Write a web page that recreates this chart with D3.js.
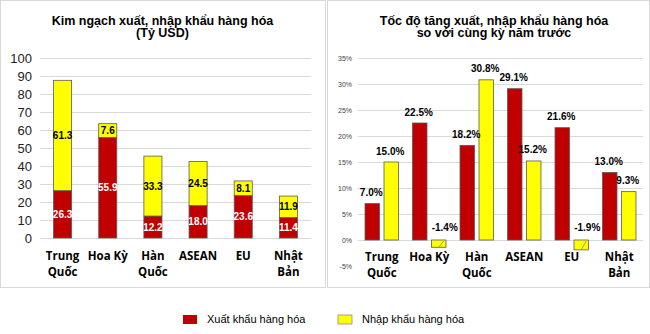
<!DOCTYPE html>
<html>
<head>
<meta charset="utf-8">
<script src="https://cdn.jsdelivr.net/npm/d3@7"></script>
<style>
  html, body { margin: 0; padding: 0; background: #fff; }
  svg { display: block; }
</style>
</head>
<body>
<svg id="chart" width="650" height="334"></svg>
<script>
// Partners (two-line labels)
const categories = ["Trung Quốc", "Hoa Kỳ", "Hàn Quốc", "ASEAN", "EU", "Nhật Bản"];
const categoryLines = [["Trung", "Quốc"], ["Hoa Kỳ"], ["Hàn", "Quốc"], ["ASEAN"], ["EU"], ["Nhật", "Bản"]];

// Trade value, billion USD
const exportValue = [26.3, 55.9, 12.2, 18.0, 23.6, 11.4];
const importValue = [61.3, 7.6, 33.3, 24.5, 8.1, 11.9];

// Growth versus same period last year, %
const exportGrowth = [7.0, 22.5, 18.2, 29.1, 21.6, 13.0];
const importGrowth = [15.0, -1.4, 30.8, 15.2, -1.9, 9.3];

const valueTicks = [0, 10, 20, 30, 40, 50, 60, 70, 80, 90, 100];
const growthTicks = [-5, 0, 5, 10, 15, 20, 25, 30, 35];

const seriesNames = ["Xuất khẩu hàng hóa", "Nhập khẩu hàng hóa"];

const RED = "#C00000", YELLOW = "#FFFF00", OUTLINE = "#5a5a5a", GRID = "#d9d9d9";
const labelFont = "'Open Sans', 'Liberation Sans', Arial, sans-serif";
const baseFont = "'Liberation Sans', Arial, sans-serif";

const svg = d3.select("#chart");

// Panel frames
svg.append("rect").attr("x", 0.5).attr("y", 0.5).attr("width", 325).attr("height", 287)
  .attr("fill", "none").attr("stroke", GRID);
svg.append("rect").attr("x", 327.5).attr("y", 0.5).attr("width", 322).attr("height", 287)
  .attr("fill", "none").attr("stroke", GRID);

function title(cx, lines) {
  const t = svg.append("text").attr("text-anchor", "middle")
    .attr("font-family", baseFont).attr("font-weight", "bold").attr("font-size", 12.5).attr("fill", "#000");
  lines.forEach((l, i) => t.append("tspan").attr("x", cx).attr("y", 24.5 + i * 12.5).text(l));
}

function categoryAxis(g, x, y0) {
  categories.forEach((c, i) => {
    const t = g.append("text").attr("text-anchor", "middle")
      .attr("font-family", labelFont).attr("font-weight", "bold").attr("font-size", 11.5).attr("fill", "#000");
    categoryLines[i].forEach((l, j) => t.append("tspan")
      .attr("x", x(c) + x.bandwidth() / 2).attr("y", y0 + j * 16).text(l));
  });
}

// ---------- Left: stacked trade values ----------
(function () {
  const g = svg.append("g");
  const x = d3.scaleBand().domain(categories).range([40, 311]).paddingInner(0.6).paddingOuter(0.3);
  const y = d3.scaleLinear().domain([0, 100]).range([238, 58]);

  title(162.5, ["Kim ngạch xuất, nhập khẩu hàng hóa", "(Tỷ USD)"]);

  const axis = g.append("g").attr("transform", "translate(40,0)")
    .call(d3.axisLeft(y).tickValues(valueTicks).tickSize(-271).tickFormat(d3.format("d")));
  axis.select(".domain").remove();
  axis.selectAll(".tick line").attr("stroke", GRID).attr("stroke-width", 1.2);
  axis.selectAll(".tick text").attr("x", -8).attr("font-family", baseFont)
    .attr("font-size", 13).attr("fill", "#222");

  const rows = categories.map((c, i) => ({ c, ex: exportValue[i], im: importValue[i] }));

  g.selectAll(".ex").data(rows).join("rect")
    .attr("x", d => x(d.c)).attr("width", x.bandwidth())
    .attr("y", d => y(d.ex)).attr("height", d => y(0) - y(d.ex))
    .attr("fill", RED).attr("stroke", OUTLINE).attr("stroke-width", 0.8);
  g.selectAll(".im").data(rows).join("rect")
    .attr("x", d => x(d.c)).attr("width", x.bandwidth())
    .attr("y", d => y(d.ex + d.im)).attr("height", d => y(d.ex) - y(d.ex + d.im))
    .attr("fill", YELLOW).attr("stroke", OUTLINE).attr("stroke-width", 0.8);

  const lbl = (sel, fill) => sel.attr("text-anchor", "middle").attr("font-family", baseFont)
    .attr("font-weight", "bold").attr("font-size", 10).attr("fill", fill);
  g.selectAll(".exl").data(rows).join("text")
    .attr("x", d => x(d.c) + x.bandwidth() / 2).attr("y", d => (y(0) + y(d.ex)) / 2 + 3.5)
    .call(lbl, "#fff").text(d => d.ex.toFixed(1));
  g.selectAll(".iml").data(rows).join("text")
    .attr("x", d => x(d.c) + x.bandwidth() / 2)
    .attr("y", d => (y(d.ex) + y(d.ex + d.im)) / 2 + 3.5)
    .call(lbl, "#000").text(d => d.im.toFixed(1));

  categoryAxis(g, x, 260);
})();

// ---------- Right: growth rates ----------
(function () {
  const g = svg.append("g");
  const x = d3.scaleBand().domain(categories).range([358, 643]).paddingInner(0.295).paddingOuter(0.1475);
  const sub = d3.scaleBand().domain(["ex", "im"]).range([0, x.bandwidth()]).paddingInner(0.237);
  const y = d3.scaleLinear().domain([-5, 35]).range([266, 58]);

  title(494, ["Tốc độ tăng xuất, nhập khẩu hàng hóa", "so với cùng kỳ năm trước"]);

  const axis = g.append("g").attr("transform", "translate(358,0)")
    .call(d3.axisLeft(y).tickValues(growthTicks).tickSize(-285).tickFormat(d => d + "%"));
  axis.select(".domain").remove();
  axis.selectAll(".tick line").attr("stroke", GRID).attr("stroke-width", 1.2)
    .filter(d => d < 0).remove();
  axis.selectAll(".tick text").attr("x", -6).attr("font-family", baseFont)
    .attr("font-size", 7).attr("fill", "#444");

  const rows = [];
  categories.forEach((c, i) => {
    rows.push({ c, k: "ex", v: exportGrowth[i] });
    rows.push({ c, k: "im", v: importGrowth[i] });
  });
  const cx = d => x(d.c) + sub(d.k) + sub.bandwidth() / 2;

  g.selectAll(".bar").data(rows).join("rect")
    .attr("x", d => x(d.c) + sub(d.k)).attr("width", sub.bandwidth())
    .attr("y", d => y(Math.max(0, d.v))).attr("height", d => Math.abs(y(d.v) - y(0)))
    .attr("fill", d => d.k === "ex" ? RED : YELLOW)
    .attr("stroke", OUTLINE).attr("stroke-width", 0.8);

  // leader lines for negative values
  g.selectAll(".leader").data(rows.filter(d => d.v < 0)).join("line")
    .attr("x1", d => cx(d) + 5).attr("y1", y(0) + 1)
    .attr("x2", d => cx(d)).attr("y2", d => y(d.v))
    .attr("stroke", "#8c8c8c").attr("stroke-width", 0.8);

  g.selectAll(".vl").data(rows).join("text")
    .attr("text-anchor", "middle").attr("font-family", baseFont)
    .attr("font-weight", "bold").attr("font-size", 10).attr("fill", "#000")
    .attr("x", d => d.v < 0 ? cx(d) + 6 : cx(d) - 1)
    .attr("y", d => d.v < 0 ? y(0) - 9.5 : y(d.v) - 7.5)
    .text(d => d.v.toFixed(1) + "%");

  categoryAxis(g, x, 261);
})();

// ---------- Legend ----------
const legend = svg.append("g");
const legendX = [183, 338];
seriesNames.forEach((n, i) => {
  legend.append("rect").attr("x", legendX[i]).attr("y", 315).attr("width", 14).attr("height", 9)
    .attr("fill", i === 0 ? RED : YELLOW).attr("stroke", i === 0 ? "none" : "#8c8c8c").attr("stroke-width", 0.8);
  legend.append("text").attr("x", legendX[i] + 24).attr("y", 323)
    .attr("font-family", baseFont).attr("font-size", 11).attr("fill", "#000").text(n);
});
</script>
</body>
</html>
